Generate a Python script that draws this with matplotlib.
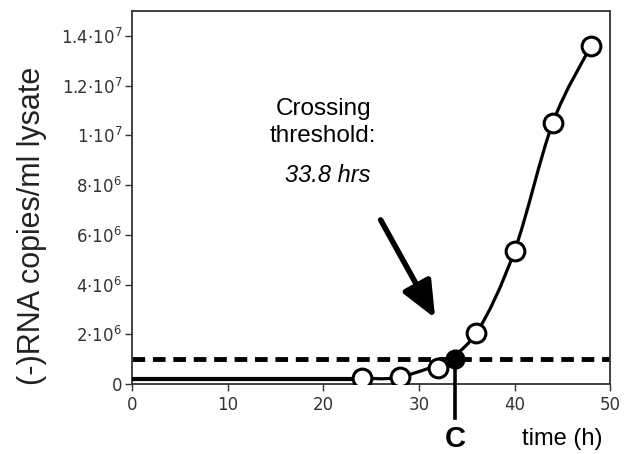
import matplotlib
matplotlib.use("Agg")
import matplotlib.pyplot as plt
from matplotlib.path import Path
from matplotlib.patches import PathPatch
import numpy as np

# data
time_h = [24, 28, 32, 36, 40, 44, 48]
copies = [2.4e5, 2.8e5, 6.4e5, 2.05e6, 5.35e6, 1.05e7, 1.36e7]
baseline = 2.2e5
threshold = 1.0e6
t_cross = 33.8

yticks = [0, 2e6, 4e6, 6e6, 8e6, 1e7, 1.2e7, 1.4e7]
ytick_labels = ["0", r"2$\cdot$10$^6$", r"4$\cdot$10$^6$", r"6$\cdot$10$^6$",
                r"8$\cdot$10$^6$", r"1$\cdot$10$^7$", r"1.2$\cdot$10$^7$",
                r"1.4$\cdot$10$^7$"]
xticks = [0, 10, 20, 30, 40, 50]

plt.rcParams["font.family"] = "DejaVu Sans"
plt.rcParams["mathtext.fontset"] = "dejavusans"
fig = plt.figure(figsize=(6.25, 4.54), dpi=100)
ax = fig.add_axes([0.2112, 0.154, 0.765, 0.822])

# smooth curve through the measured points (Catmull-Rom as cubic Beziers)
pts = list(zip(time_h, copies))
pts.insert(2, (t_cross, threshold))
pts = np.array(pts)
verts = [tuple(pts[0])]
codes = [Path.MOVETO]
for i in range(len(pts) - 1):
    p0 = pts[max(i - 1, 0)]
    p1 = pts[i]
    p2 = pts[i + 1]
    p3 = pts[min(i + 2, len(pts) - 1)]
    c1 = p1 + (p2 - p0) / 6.0
    c2 = p2 - (p3 - p1) / 6.0
    verts += [tuple(c1), tuple(c2), tuple(p2)]
    codes += [Path.CURVE4] * 3
ax.add_patch(PathPatch(Path(verts, codes), fill=False, lw=2.3, ec="black",
                       zorder=3))

# baseline before the first measurement
ax.plot([0, time_h[0]], [baseline, baseline], color="black", lw=3, zorder=3)

# threshold
ax.axhline(threshold, color="black", lw=3.5, ls=(0, (2.6, 1.6)), zorder=2)

ax.plot(time_h, copies, "o", ms=13.5, mfc="white", mec="black", mew=2.2,
        zorder=4)
ax.plot([t_cross], [threshold], "o", ms=13.5, mfc="black", mec="black",
        zorder=5)

# vertical marker from the crossing point down below the axis
ax.plot([t_cross, t_cross], [threshold, -1.35e6], color="black", lw=2.6,
        clip_on=False, zorder=5)
ax.text(t_cross, -2.2e6, "C", ha="center", va="center", fontsize=21,
        fontweight="bold", family="Liberation Sans")
ax.text(49.2, -2.2e6, "time (h)", ha="right", va="center", fontsize=17,
        family="Liberation Sans")

ax.text(20.0, 1.05e7, "Crossing\nthreshold:", ha="center", va="center",
        fontsize=17.5, family="Liberation Sans", linespacing=1.3)
ax.text(20.5, 8.4e6, "33.8 hrs", ha="center", va="center", fontsize=17,
        style="italic", family="Liberation Sans")
ax.annotate("", xy=(31.7, 2.65e6), xytext=(26.0, 6.6e6),
            arrowprops=dict(arrowstyle="-|>,head_length=2.2,head_width=0.95",
                            lw=4, color="black", shrinkA=0, shrinkB=0))

ax.set_xlim(0, 50)
ax.set_ylim(0, 1.5e7)
ax.set_xticks(xticks)
ax.set_yticks(yticks)
ax.set_yticklabels(ytick_labels)
ax.tick_params(direction="out", length=5, width=1, labelsize=12,
               colors="#333333", labelcolor="#333333")
ax.tick_params(axis="y", pad=2)
for s in ax.spines.values():
    s.set_linewidth(1.3)
    s.set_color("#333333")
ax.set_ylabel("(-)RNA copies/ml lysate", fontsize=22, family="Liberation Sans",
              color="#222222")
ax.yaxis.set_label_coords(-0.178, 0.424)

fig.savefig("out.png", dpi=100)
